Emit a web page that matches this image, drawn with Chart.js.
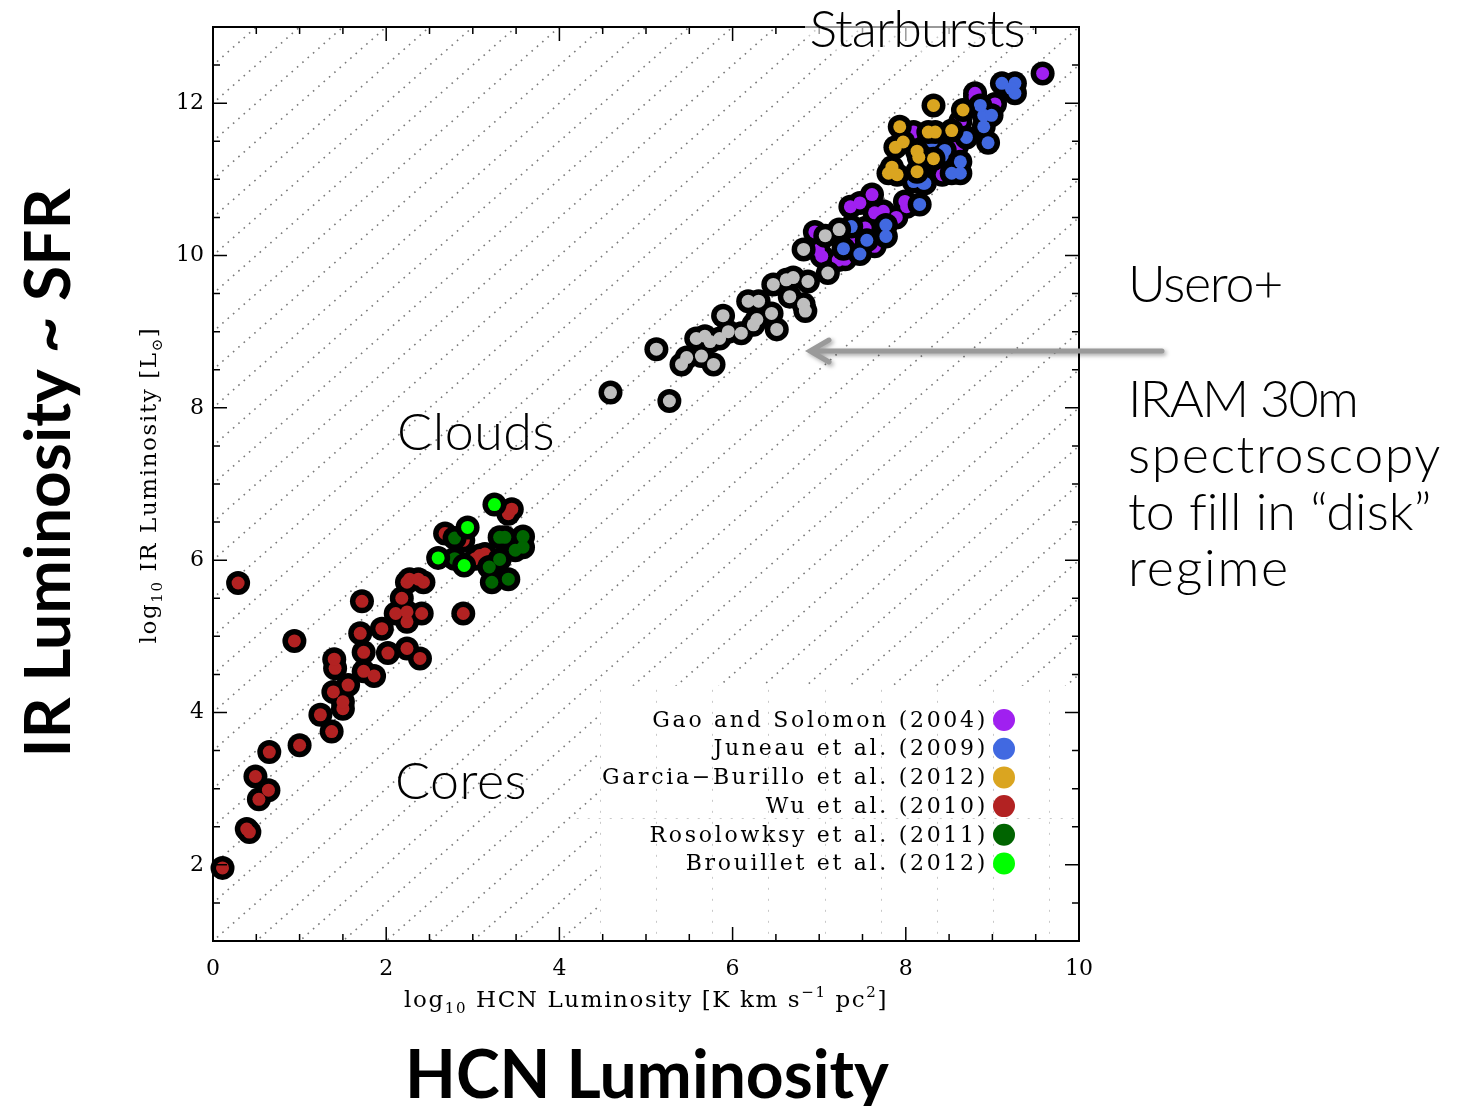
<!DOCTYPE html>
<html lang="en">
<head>
<meta charset="UTF-8">
<title>IR Luminosity vs HCN Luminosity</title>
<script src="https://cdn.jsdelivr.net/npm/chart.js"></script>
<style>
  html, body { margin: 0; padding: 0; background: #fff; }
  canvas { display: block; }
</style>
</head>
<body>
<canvas id="hcnChart" width="1459" height="1106"></canvas>
<script>
// log10 L_HCN, log10 L_IR pairs
const gaoPts = [[6.95,10.31],[6.99,10.07],[7.03,9.99],[7.22,9.94],[7.30,9.95],[7.36,10.64],[7.47,10.69],[7.61,10.80],
  [7.64,10.56],[7.74,10.58],[7.89,10.50],[8.01,10.64],[7.53,10.36],[7.64,10.12],[7.43,10.23],[7.99,10.71],[8.20,11.20],
  [8.42,11.06],[8.59,11.43],[8.63,11.76],[8.09,11.62],[8.80,12.08],[8.80,12.13],[9.03,11.99],[9.58,12.39]];
const juneauPts = [[7.28,10.09],[7.47,10.02],[7.55,10.20],[7.77,10.40],[7.77,10.25],[7.37,10.38],[8.16,10.67],[8.22,10.95],
  [8.09,10.97],[8.20,10.95],[8.42,11.31],[8.45,11.38],[8.30,11.50],[8.53,11.08],[8.63,11.08],[8.63,11.23],[8.70,11.55],
  [8.95,11.48],[8.90,11.69],[8.90,11.84],[8.99,11.84],[8.86,11.97],[9.11,12.26],[9.26,12.26],[9.22,12.19],[9.26,12.13]];
const garciaPts = [[8.32,11.97],[8.66,11.91],[7.93,11.69],[8.26,11.62],[8.34,11.62],[8.53,11.64],[7.97,11.49],[7.88,11.42],
  [8.13,11.37],[8.15,11.29],[8.32,11.27],[7.84,11.16],[7.90,11.06],[7.80,11.08],[8.13,11.10]];
const useroPts = [[4.59,8.20],[5.27,8.09],[5.12,8.77],[5.41,8.57],[5.47,8.66],[5.64,8.68],[5.78,8.57],[5.58,8.91],[5.68,8.94],
  [5.74,8.87],[5.85,8.91],[5.95,9.00],[6.10,8.98],[5.89,9.21],[6.24,9.09],[6.28,9.16],[6.51,9.03],[6.45,9.24],[6.18,9.40],
  [6.30,9.40],[6.47,9.62],[6.62,9.68],[6.70,9.71],[6.66,9.46],[6.82,9.36],[6.84,9.27],[6.87,9.66],[7.10,9.77],[6.82,10.08],
  [7.07,10.26],[7.23,10.34]];
const wuPts = [[0.11,1.96],[0.39,2.47],[0.42,2.43],[0.53,2.86],[0.64,2.98],[0.49,3.16],[0.65,3.48],[1.00,3.57],[1.37,3.75],
  [1.24,3.97],[1.50,4.05],[1.50,4.14],[1.39,4.27],[1.56,4.36],[1.86,4.48],[1.74,4.54],[1.41,4.58],[1.40,4.70],[1.74,4.79],
  [2.02,4.78],[2.24,4.84],[2.39,4.71],[0.94,4.94],[1.70,5.04],[1.95,5.10],[2.24,5.19],[2.11,5.30],[2.24,5.32],[2.41,5.30],
  [2.18,5.50],[1.72,5.46],[0.29,5.70],[2.24,5.71],[2.27,5.75],[2.37,5.75],[2.43,5.71],[2.89,5.30],[2.68,6.35],[2.89,6.26],
  [3.03,6.02],[3.08,6.06],[3.14,6.08],[3.41,6.61],[3.45,6.67]];
const rosoPts = [[2.79,6.29],[2.79,6.02],[3.31,6.30],[3.37,6.30],[3.58,6.31],[3.58,6.17],[3.49,6.13],[3.31,6.01],[3.19,5.91],
  [3.22,5.71],[3.41,5.75]];
const brouPts = [[3.25,6.73],[2.94,6.43],[2.60,6.03],[2.90,5.93]];

const xTicks = [0, 2, 4, 6, 8, 10];
const yTicks = [2, 4, 6, 8, 10, 12];
const ratioLines = [];   // L_IR - L_HCN offsets of the dotted guide lines
for (let c = -12; c <= 13; c += 0.5) ratioLines.push(c);

const legendNames = ['Gao and Solomon (2004)', 'Juneau et al. (2009)', 'Garcia\u2212Burillo et al. (2012)',
  'Wu et al. (2010)', 'Rosolowksy et al. (2011)', 'Brouillet et al. (2012)'];

// drawing order bottom -> top
const layers = [
  { pts: gaoPts, color: '#A020F0' },
  { pts: juneauPts, color: '#4169E1' },
  { pts: garciaPts, color: '#DAA520' },
  { pts: useroPts, color: '#BEBEBE' },
  { pts: wuPts, color: '#B22222' },
  { pts: rosoPts, color: '#006400' },
  { pts: brouPts, color: '#00FF00' }
];
const legendColors = ['#A020F0', '#4169E1', '#DAA520', '#B22222', '#006400', '#00FF00'];

const SERIF = '"DejaVu Serif", "Liberation Serif", serif';
const THIN = 'Lato, "Open Sans", sans-serif';

const datasets = [];
layers.forEach((l, i) => {
  const data = l.pts.map(p => ({ x: p[0], y: p[1] }));
  datasets.push({ data: data, pointRadius: 12, pointHoverRadius: 12, pointBorderWidth: 0,
    pointBackgroundColor: '#000', showLine: false, clip: false, order: 100 - 2 * i });
  datasets.push({ data: data, pointRadius: 6.5, pointHoverRadius: 6.5, pointBorderWidth: 0,
    pointBackgroundColor: l.color, showLine: false, clip: false, order: 99 - 2 * i });
});

function drawRich(ctx, parts, x, y, size, spacing) {
  const small = Math.round(size * 0.65);
  ctx.letterSpacing = spacing + 'px';
  let total = 0;
  parts.forEach(p => {
    ctx.font = (p[1] === 'n' ? size : small) + 'px ' + SERIF;
    total += ctx.measureText(p[0]).width;
  });
  let cx = x - total / 2;
  ctx.textAlign = 'left';
  ctx.textBaseline = 'alphabetic';
  parts.forEach(p => {
    ctx.font = (p[1] === 'n' ? size : small) + 'px ' + SERIF;
    let dy = 0;
    if (p[1] === 'sub') dy = size * 0.28;
    if (p[1] === 'sup') dy = -size * 0.45;
    ctx.fillText(p[0], cx, y + dy);
    cx += ctx.measureText(p[0]).width;
  });
  ctx.letterSpacing = '0px';
}

// light geometric slide text, spaced to the width it has on the slide
function slideText(ctx, text, x, y, width, align) {
  ctx.font = '300 52px ' + THIN;
  ctx.letterSpacing = '0px';
  const w = ctx.measureText(text).width;
  ctx.letterSpacing = ((width - w) / text.length).toFixed(2) + 'px';
  ctx.textAlign = 'left';
  ctx.fillText(text, align === 'center' ? x - width / 2 : x, y);
  ctx.letterSpacing = '0px';
}

const decor = {
  id: 'decor',
  beforeDatasetsDraw(chart) {
    const { ctx, chartArea: a, scales: { x, y } } = chart;
    ctx.save();
    ctx.beginPath();
    ctx.rect(a.left, a.top, a.right - a.left, a.bottom - a.top);
    ctx.clip();
    // dotted constant-ratio lines
    ctx.strokeStyle = '#7a7a7a';
    ctx.lineWidth = 1.6;
    ctx.setLineDash([1.6, 5.5]);
    ratioLines.forEach(c => {
      ctx.beginPath();
      ctx.moveTo(x.getPixelForValue(-1), y.getPixelForValue(-1 + c));
      ctx.lineTo(x.getPixelForValue(11), y.getPixelForValue(11 + c));
      ctx.stroke();
    });
    // legend panel
    const lx = x.getPixelForValue(4.45), ly = y.getPixelForValue(4.35);
    ctx.setLineDash([]);
    ctx.fillStyle = '#fff';
    ctx.fillRect(lx, ly, a.right - lx, a.bottom - ly);
    ctx.strokeStyle = '#c8c8c8';
    ctx.lineWidth = 1;
    ctx.setLineDash([2, 9]);
    for (let gx = 4.47; gx < 10; gx += 0.648) {
      const px = Math.round(x.getPixelForValue(gx)) + 0.5;
      ctx.beginPath(); ctx.moveTo(px, ly + 4); ctx.lineTo(px, a.bottom); ctx.stroke();
    }
    const hy = Math.round(y.getPixelForValue(2.62)) + 0.5;
    ctx.beginPath(); ctx.moveTo(x.getPixelForValue(4.2), hy); ctx.lineTo(a.right, hy); ctx.stroke();
    ctx.restore();
  },
  afterDatasetsDraw(chart) {
    const { ctx, chartArea: a, scales: { x, y } } = chart;
    ctx.save();
    // frame
    ctx.strokeStyle = '#000';
    ctx.lineWidth = 2;
    ctx.strokeRect(a.left, a.top, a.right - a.left, a.bottom - a.top);
    // inward ticks on all four sides
    ctx.lineWidth = 1.5;
    for (let v = 0; v <= 10.001; v += 0.5) {
      const len = Math.abs(v % 2) < 0.01 ? 14 : 7;
      const px = x.getPixelForValue(v);
      ctx.beginPath();
      ctx.moveTo(px, a.bottom); ctx.lineTo(px, a.bottom - len);
      ctx.moveTo(px, a.top); ctx.lineTo(px, a.top + len);
      ctx.stroke();
    }
    for (let v = 1; v <= 13.001; v += 0.5) {
      const len = Math.abs(v % 2) < 0.01 ? 14 : 7;
      const py = y.getPixelForValue(v);
      ctx.beginPath();
      ctx.moveTo(a.left, py); ctx.lineTo(a.left + len, py);
      ctx.moveTo(a.right, py); ctx.lineTo(a.right - len, py);
      ctx.stroke();
    }
    // legend entries
    ctx.font = '22px ' + SERIF;
    ctx.letterSpacing = '2.7px';
    ctx.textAlign = 'right';
    ctx.textBaseline = 'middle';
    legendNames.forEach((name, i) => {
      const ry = 720 + i * 28.7;
      ctx.fillStyle = '#000';
      ctx.fillText(name, 988, ry + 1);
      ctx.fillStyle = legendColors[i];
      ctx.beginPath(); ctx.arc(1004, ry, 11, 0, Math.PI * 2); ctx.fill();
    });
    ctx.letterSpacing = '0px';
    // region labels
    ctx.fillStyle = 'rgba(255,255,255,0.6)';
    ctx.fillRect(805, 0, 225, 52);
    ctx.fillStyle = '#000';
    ctx.textBaseline = 'alphabetic';
    slideText(ctx, 'Starbursts', 917, 47, 215, 'center');
    slideText(ctx, 'Clouds', 476, 450, 158, 'center');
    slideText(ctx, 'Cores', 461, 799, 132, 'center');
    slideText(ctx, 'Usero+', 1128, 302, 154);
    slideText(ctx, 'IRAM 30m', 1128, 417, 229);
    slideText(ctx, 'spectroscopy', 1128, 473, 314);
    slideText(ctx, 'to fill in \u201cdisk\u201d', 1128, 530, 302);
    slideText(ctx, 'regime', 1128, 586, 162);
    // arrow
    ctx.strokeStyle = '#9a9a9a';
    ctx.lineWidth = 5;
    ctx.lineCap = 'round';
    ctx.shadowColor = 'rgba(0,0,0,0.35)';
    ctx.shadowBlur = 4;
    ctx.shadowOffsetX = 2;
    ctx.shadowOffsetY = 2;
    ctx.beginPath();
    ctx.moveTo(1162, 351); ctx.lineTo(810, 351);
    ctx.moveTo(829, 340); ctx.lineTo(810, 351); ctx.lineTo(829, 362);
    ctx.stroke();
    ctx.shadowColor = 'transparent';
    // axis titles
    ctx.fillStyle = '#000';
    drawRich(ctx, [['log', 'n'], ['10', 'sub'], [' HCN Luminosity [K km s', 'n'], ['\u22121', 'sup'],
      [' pc', 'n'], ['2', 'sup'], [']', 'n']], 646, 1007, 23, 1.6);
    ctx.save();
    ctx.translate(156, 485);
    ctx.rotate(-Math.PI / 2);
    drawRich(ctx, [['log', 'n'], ['10', 'sub'], [' IR Luminosity [L', 'n'], ['\u2299', 'sub'], [']', 'n']], 0, 0, 23, 1.6);
    ctx.restore();
    // big slide labels
    ctx.font = 'bold 66px ' + THIN;
    ctx.textAlign = 'center';
    ctx.textBaseline = 'alphabetic';
    ctx.fillText('HCN Luminosity', 647, 1098);
    ctx.font = 'bold 64px ' + THIN;
    ctx.save();
    ctx.translate(70, 473);
    ctx.rotate(-Math.PI / 2);
    ctx.fillText('IR Luminosity ~ SFR', 0, 0);
    ctx.restore();
    ctx.restore();
  }
};

new Chart(document.getElementById('hcnChart'), {
  type: 'scatter',
  data: { datasets: datasets },
  options: {
    responsive: false,
    animation: false,
    devicePixelRatio: 1,
    events: [],
    layout: { padding: { left: 173, right: 380, top: 27, bottom: 120 } },
    plugins: { legend: { display: false }, tooltip: { enabled: false } },
    scales: {
      x: {
        type: 'linear', min: 0, max: 10,
        grid: { display: false, drawTicks: false },
        border: { display: false },
        ticks: { color: '#000', padding: 15, font: { family: SERIF, size: 22 } },
        afterBuildTicks: s => { s.ticks = xTicks.map(v => ({ value: v })); },
        afterFit: s => { s.height = 45; }
      },
      y: {
        type: 'linear', min: 1, max: 13,
        grid: { display: false, drawTicks: false },
        border: { display: false },
        ticks: { color: '#000', padding: 9, font: { family: SERIF, size: 22 } },
        afterBuildTicks: s => { s.ticks = yTicks.map(v => ({ value: v })); },
        afterFit: s => { s.width = 40; }
      }
    }
  },
  plugins: [decor]
});
</script>
</body>
</html>
